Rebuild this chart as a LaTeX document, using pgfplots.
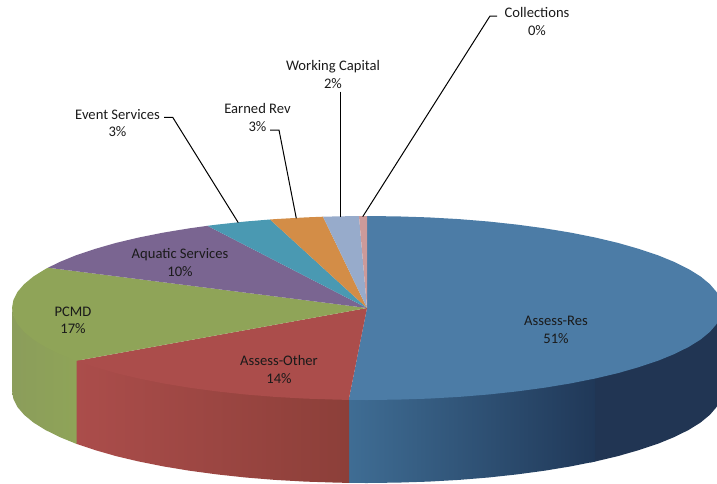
\documentclass[border=0pt]{standalone}
\usepackage{fontspec}
\setmainfont{Carlito}
\usepackage{pgfplots}
\pgfplotsset{compat=1.18}
\definecolor{cRes}{HTML}{4C7CA6}
\definecolor{cOther}{HTML}{AB4D4B}
\definecolor{cPCMD}{HTML}{8FA458}
\definecolor{cAqua}{HTML}{7A6591}
\definecolor{cEvent}{HTML}{4A99B2}
\definecolor{cEarned}{HTML}{D38D47}
\definecolor{cWork}{HTML}{97ABCB}
\definecolor{cColl}{HTML}{CC9A9A}
\definecolor{wallA}{HTML}{3F6D94}
\definecolor{wallB}{HTML}{2C5171}
\definecolor{wallC}{HTML}{203858}
\definecolor{wallD}{HTML}{213553}
\definecolor{redB}{HTML}{A04A46}
\definecolor{redC}{HTML}{8C3F39}
\definecolor{greenA}{HTML}{8B9D5B}
\definecolor{txt}{HTML}{1A1A1A}
\begin{document}
\begin{tikzpicture}
\begin{axis}[
  scale only axis, width=717pt, height=483pt,
  xmin=0, xmax=717, ymin=0, ymax=483, y dir=reverse,
  hide axis, clip=true, no markers,
  every axis plot/.append style={draw=none, line width=0pt},
]
\addplot[draw=none, forget plot] coordinates {(0,0) (717,483)};
% --- side walls (upper edge tucked under the top faces)
\addplot[fill=wallD] coordinates {
(590,370)(618,370)(638.9,364)(657.8,357.8)(674.4,351)(688.7,343.9)(700.6,336.5)(709.9,328.8)(716.6,321)(720.6,313)(722,305)
(722,391)(720.6,399)(716.6,407)(709.9,414.8)(700.6,422.5)(688.7,429.9)(674.4,437)(657.8,443.8)(638.9,450.1)(618,456.1)(595.2,461.5)(590,462.5)
} -- cycle;
\addplot[left color=wallA, middle color=wallB, right color=wallC, shading angle=90] coordinates {
(348.7,396.9)(367,397)(397.9,396.6)(428.6,395.6)(458.9,393.9)(488.4,391.5)(517,388.4)(544.5,384.7)(570.6,380.4)(595.2,375.5)
(595.2,461.5)(570.6,466.4)(544.5,470.7)(517,474.4)(488.4,477.5)(458.9,479.9)(428.6,481.6)(397.9,482.6)(367,483)(348.7,482.9)
} -- cycle;
\addplot[left color=cOther, middle color=redB, right color=redC, shading angle=90] coordinates {
(349.2,396.9)(336.1,396.6)(305.4,395.6)(275.1,393.9)(245.6,391.5)(217,388.4)(189.5,384.7)(163.4,380.4)(138.8,375.5)(116,370.1)(95.1,364.1)(76.2,357.8)
(76.2,443.8)(95.1,450.1)(116,456.1)(138.8,461.5)(163.4,466.4)(189.5,470.7)(217,474.4)(245.6,477.5)(275.1,479.9)(305.4,481.6)(336.1,482.6)(349.2,482.9)
} -- cycle;
\addplot[left color=greenA, right color=cPCMD, shading angle=90] coordinates {
(76.7,357.8)(59.6,351)(45.3,343.9)(33.4,336.5)(24.1,329)(17.4,322)(13.4,315)(12,308)
(12,391)(13.4,399)(17.4,407)(24.1,414.8)(33.4,422.5)(45.3,429.9)(59.6,437)(76.7,444)
} -- cycle;
% --- top faces
\addplot[fill=cRes] coordinates {
(367,308)(367,216)(397.9,216.4)(428.6,217.4)(458.9,219.1)(488.4,221.5)(517,224.6)(544.5,228.3)(570.6,232.6)(595.2,237.5)(618,242.9)(638.9,248.9)(657.8,255.2)(674.4,262)(688.7,269.1)(700.6,276.5)(709.9,284.2)(716.6,292)(720.6,300)(722,308)
(720.6,316)(716.6,324)(709.9,331.8)(700.6,339.5)(688.7,346.9)(674.4,354)(657.8,360.8)(638.9,367.1)(618,373.1)(595.2,378.5)(570.6,383.4)(544.5,387.7)(517,391.4)(488.4,394.5)(458.9,396.9)(428.6,398.6)(397.9,399.6)(367,400)(348.7,399.9)
} -- cycle;
\addplot[fill=cOther] coordinates {
(367,308)(348.7,399.9)(336.1,399.6)(305.4,398.6)(275.1,396.9)(245.6,394.5)(217,391.4)(189.5,387.7)(163.4,383.4)(138.8,378.5)(116,373.1)(95.1,367.1)(76.2,360.8)
} -- cycle;
\addplot[fill=cPCMD] coordinates {
(367,308)(76.2,360.8)(59.6,354)(45.3,346.9)(33.4,339.5)(24.1,331.8)(17.4,324)(13.4,316)(12,308)(13.4,300)(17.4,292)(24.1,284.2)(33.4,276.5)(45.3,269.1)(48,267.7)
} -- cycle;
\addplot[fill=cAqua] coordinates {
(367,308)(48,267.7)(59.6,262)(76.2,255.2)(95.1,248.9)(116,242.9)(138.8,237.5)(163.4,232.6)(189.5,228.3)(207.5,225.8)
} -- cycle;
\addplot[fill=cEvent] coordinates {
(367,308)(207.5,225.8)(217,224.6)(245.6,221.5)(270,219.5)
} -- cycle;
\addplot[fill=cEarned] coordinates {
(367,308)(270,219.5)(275.1,219.1)(305.4,217.4)(323,216.7)
} -- cycle;
\addplot[fill=cWork] coordinates {
(367,308)(323,216.7)(336.1,216.4)(359,216)
} -- cycle;
\addplot[fill=cColl] coordinates {
(367,308)(359,216)(367,216)
} -- cycle;
% --- leader lines
\addplot[draw=black, line width=1pt] coordinates {(164,117.3)(172.7,117.3)(238.3,222.7)};
\addplot[draw=black, line width=1pt] coordinates {(270,130)(279,130)(296.3,218.3)};
\addplot[draw=black, line width=1pt] coordinates {(340.7,91.7)(340.7,216.7)};
\addplot[draw=black, line width=1pt] coordinates {(497,16)(490,16)(362.7,216.7)};
% --- labels
\begin{scope}[every node/.style={align=center, inner sep=0pt, text=txt, font=\fontsize{14.6}{17.5}\selectfont}]
\node at (axis cs:556,330) {Assess-Res\\51\%};
\node at (axis cs:279,369.5) {Assess-Other\\14\%};
\node at (axis cs:73,320.5) {PCMD\\17\%};
\node at (axis cs:180,262.5) {Aquatic Services\\10\%};
\node at (axis cs:117.5,123) {Event Services\\3\%};
\node at (axis cs:257.5,117.5) {Earned Rev\\3\%};
\node at (axis cs:333,74.5) {Working Capital\\2\%};
\node at (axis cs:537,21.5) {Collections\\0\%};
\end{scope}
\end{axis}
\end{tikzpicture}
\end{document}
